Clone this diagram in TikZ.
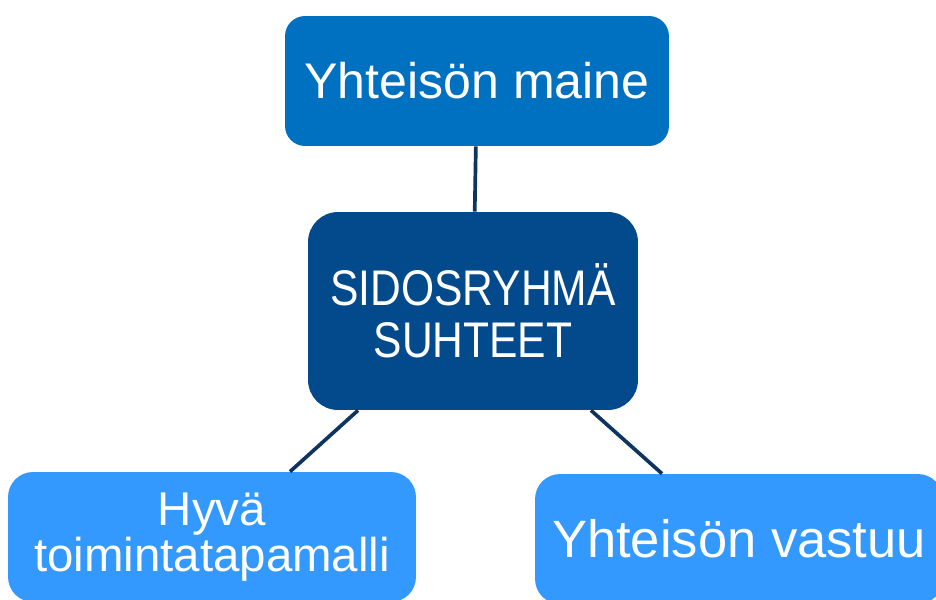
\documentclass[tikz,border=0pt]{standalone}
\usepackage{fontspec}
\setmainfont{Liberation Sans}
\newfontfamily\narrowfont[FakeStretch=0.85]{Liberation Sans}
\definecolor{mainblue}{HTML}{0070C0}
\definecolor{darkblue}{HTML}{034A8C}
\definecolor{lightblue}{HTML}{3399FF}
\definecolor{linkblue}{HTML}{0E3461}

\begin{document}
\begin{tikzpicture}[x=0.02cm, y=-0.02cm,
    topic/.style={rectangle, rounded corners=0.4cm, fill=mainblue, text=white, minimum width=7.68cm, minimum height=2.6cm, font=\fontsize{28.5}{34}\selectfont},
    core/.style={rectangle, rounded corners=0.6cm, fill=darkblue, text=white, minimum width=6.6cm, minimum height=3.96cm, align=center, font=\narrowfont\fontsize{28.5}{29.5}\selectfont},
    leaf/.style={rectangle, rounded corners=0.5cm, fill=lightblue, text=white, minimum width=8.16cm, minimum height=2.6cm, align=center},
    link/.style={draw=linkblue, line width=2.1pt}
]
\useasboundingbox (0,0) rectangle (936,599);
\clip (0,0) rectangle (936,599);

% Central node and the topics round it
\node[core] (sidos) at (473,311) {SIDOSRYHMÄ\\SUHTEET};
\node[topic] (maine) at (477,81) {Yhteisön maine};
\node[leaf, font=\fontsize{27}{24}\selectfont] (hyva) at (212,537) {Hyvä\\toimintatapamalli};
\node[leaf, font=\fontsize{29.9}{34}\selectfont] (vastuu) at (739,539) {Yhteisön vastuu};

% Links
\draw[link] (maine) -- (sidos);
\draw[link] ([xshift=-2.3cm]sidos.south) -- ([xshift=1.56cm]hyva.north);
\draw[link] ([xshift=2.36cm]sidos.south) -- ([xshift=-1.54cm]vastuu.north);

\end{tikzpicture}
\end{document}
